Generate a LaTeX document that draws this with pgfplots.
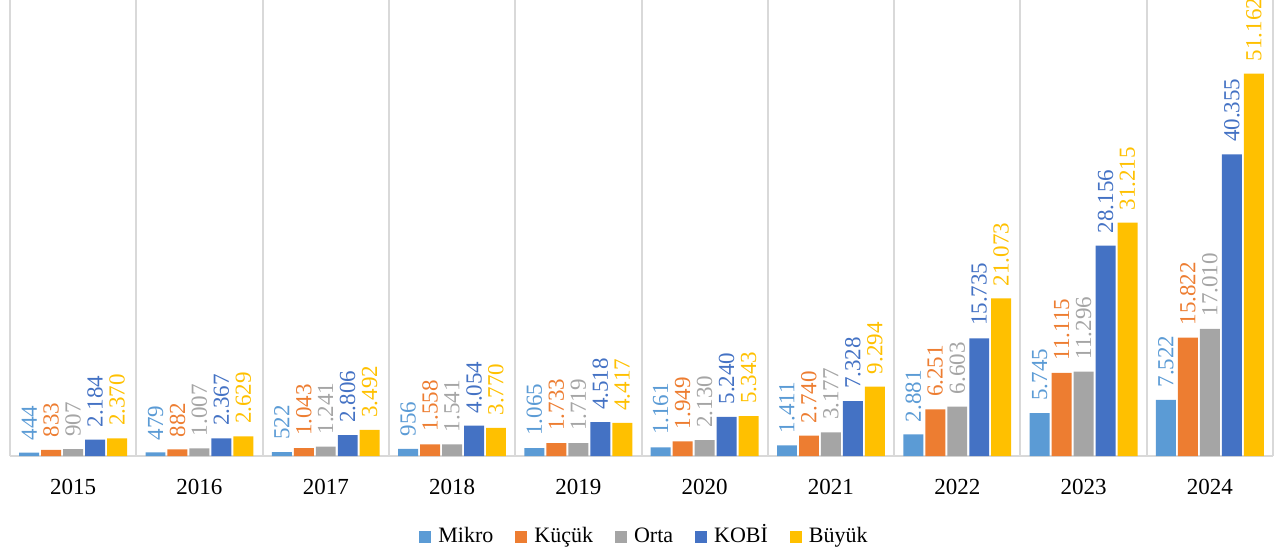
\documentclass[border=0pt]{standalone}
\usepackage{fontspec}
\setmainfont{Liberation Serif}
\usepackage{pgfplots}
\pgfplotsset{compat=1.18}
\usepackage{pgfplotstable}
\definecolor{cMikro}{HTML}{5B9BD5}
\definecolor{cKucuk}{HTML}{ED7D31}
\definecolor{cOrta}{HTML}{A5A5A5}
\definecolor{cKOBI}{HTML}{4472C4}
\definecolor{cBuyuk}{HTML}{FFC000}
\pgfplotstableread{
x Mikro Kucuk Orta KOBI Buyuk
0 444 833 907 2184 2370
1 479 882 1007 2367 2629
2 522 1043 1241 2806 3492
3 956 1558 1541 4054 3770
4 1065 1733 1719 4518 4417
5 1161 1949 2130 5240 5343
6 1411 2740 3177 7328 9294
7 2881 6251 6603 15735 21073
8 5745 11115 11296 28156 31215
9 7522 15822 17010 40355 51162
}\data
\begin{document}
\begin{tikzpicture}
\begin{axis}[
  scale only axis, width=631.5pt, height=228pt,
  ybar, bar width=0.158,
  xmin=-0.5, xmax=9.5, ymin=0, ymax=61000,
  axis x line*=bottom, axis y line=none,
  x axis line style={draw=black!15, line width=1pt},
  xtick={0,...,9}, xticklabels={2015,2016,2017,2018,2019,2020,2021,2022,2023,2024},
  minor xtick={-0.5,0.5,...,9.5},
  minor x grid style={draw=black!15, line width=1pt},
  xminorgrids=true,
  major tick length=0pt, minor tick length=0pt,
  xticklabel style={font=\fontsize{11.5}{13}\selectfont, yshift=-8pt},
  /pgf/number format/assume math mode=true,
  clip=false,
  nodes near coords={\pgfmathprintnumber[fixed,precision=0,1000 sep={.}]{\pgfplotspointmeta}},
  every node near coord/.append style={rotate=90, anchor=west, inner sep=6pt, font=\fontsize{11.5}{13}\selectfont},
  legend style={at={(0.5,-0.178)}, xshift=2pt, anchor=center, draw=none, legend columns=5,
    font=\fontsize{11}{13}\selectfont,
    nodes={text height=1.6ex, text depth=0.5ex},
    /tikz/every odd column/.append style={column sep=1.5pt},
    /tikz/every even column/.append style={column sep=9pt}},
  legend image code/.code={\fill[#1] (0pt,-2.8pt) rectangle (6pt,3.2pt);},
]
\addplot[fill=cMikro, draw=none, bar shift=-0.348, every node near coord/.append style={text=cMikro}] table[x=x,y=Mikro]{\data};
\addlegendentry{Mikro}
\addplot[fill=cKucuk, draw=none, bar shift=-0.174, every node near coord/.append style={text=cKucuk}] table[x=x,y=Kucuk]{\data};
\addlegendentry{Küçük}
\addplot[fill=cOrta, draw=none, bar shift=0, every node near coord/.append style={text=cOrta}] table[x=x,y=Orta]{\data};
\addlegendentry{Orta}
\addplot[fill=cKOBI, draw=none, bar shift=0.174, every node near coord/.append style={text=cKOBI}] table[x=x,y=KOBI]{\data};
\addlegendentry{KOBİ}
\addplot[fill=cBuyuk, draw=none, bar shift=0.348, every node near coord/.append style={text=cBuyuk}] table[x=x,y=Buyuk]{\data};
\addlegendentry{Büyük}
\end{axis}
\pgfresetboundingbox
\path[use as bounding box] (-5pt,-48.5pt) rectangle (636.5pt,228pt);
\end{tikzpicture}
\end{document}
